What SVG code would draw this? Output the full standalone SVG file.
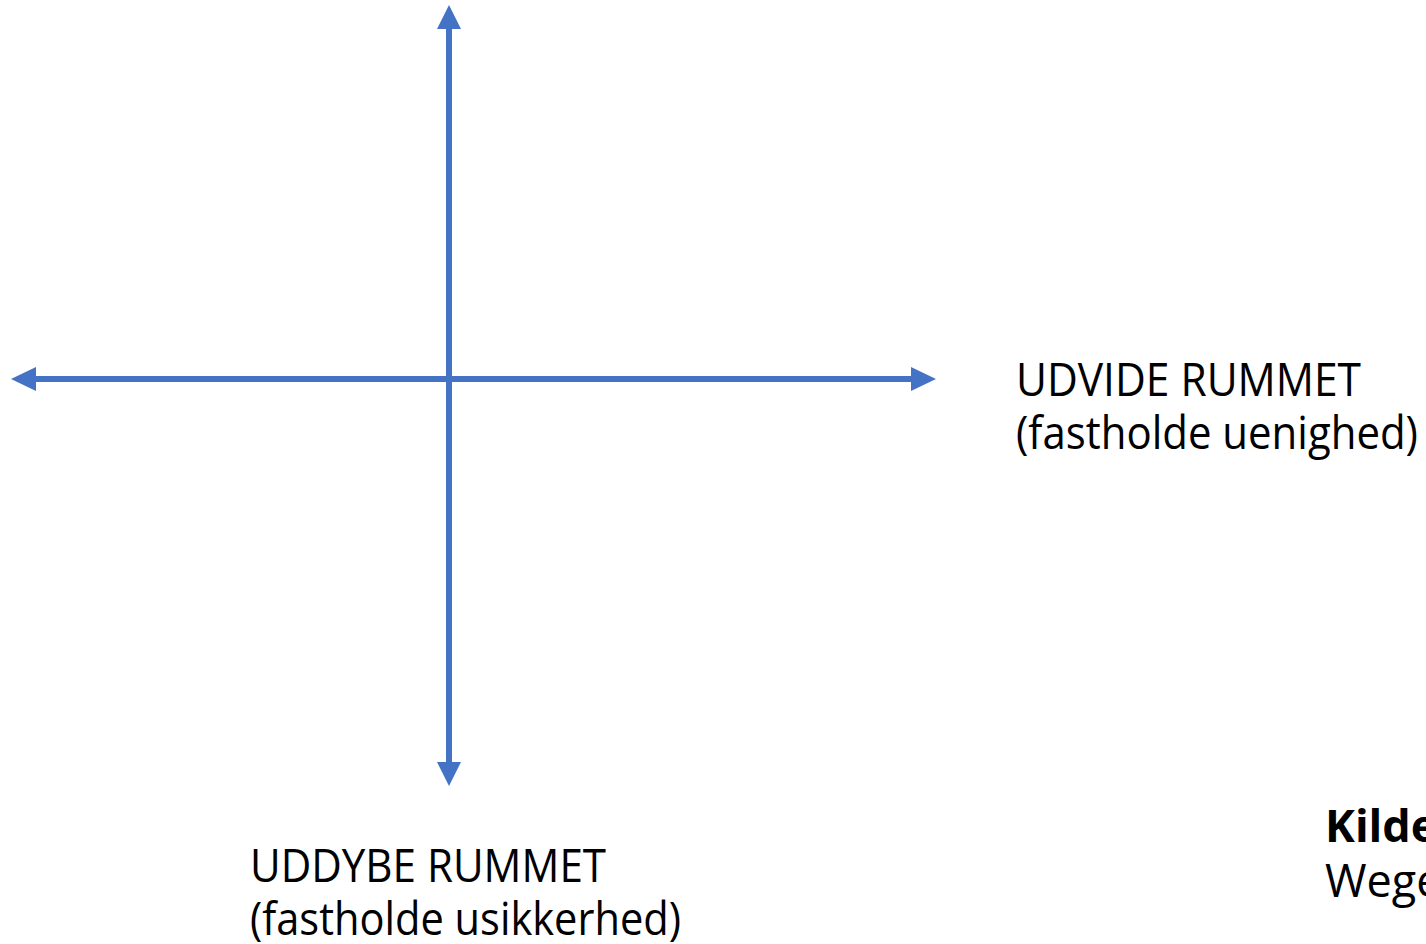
<svg xmlns="http://www.w3.org/2000/svg" width="1426" height="944" viewBox="0 0 1426 944">
<style>
.lbl{font-family:"Open Sans","Liberation Sans",sans-serif;font-size:45px;fill:#000}
.b{font-weight:bold}
.ax{stroke:#4472C4;stroke-width:6;fill:none}
.ah{fill:#4472C4}
</style>
<rect width="1426" height="944" fill="#fff"/>
<g id="connectors">
<line class="ax" x1="449" y1="26" x2="449" y2="765"/>
<polygon class="ah" points="449,5 461,29 437,29"/>
<polygon class="ah" points="449,786 461,762 437,762"/>
<line class="ax" x1="34" y1="379" x2="914" y2="379"/>
<polygon class="ah" points="11,379 36,367 36,391"/>
<polygon class="ah" points="936,379 911,367 911,391"/>
</g>
<g id="label-udvide">
<text class="lbl" x="1016" y="396" textLength="345" lengthAdjust="spacingAndGlyphs">UDVIDE RUMMET</text>
<text class="lbl" x="1016" y="449" textLength="402" lengthAdjust="spacingAndGlyphs">(fastholde uenighed)</text>
</g>
<g id="label-uddybe">
<text class="lbl" x="250" y="882" textLength="356" lengthAdjust="spacingAndGlyphs">UDDYBE RUMMET</text>
<text class="lbl" x="250" y="935" textLength="431" lengthAdjust="spacingAndGlyphs">(fastholde usikkerhed)</text>
</g>
<g id="label-kilde">
<text class="lbl b" x="1325" y="842">Kilde</text>
<text class="lbl" x="1325" y="897">Wege</text>
</g>
</svg>
